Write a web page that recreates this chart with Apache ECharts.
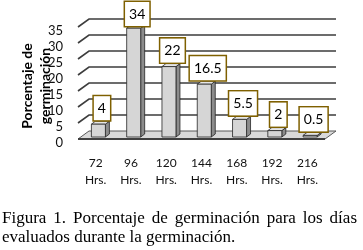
<!DOCTYPE html>
<html>
<head>
<meta charset="utf-8">
<script src="https://cdn.jsdelivr.net/npm/echarts@6/dist/echarts.min.js"></script>
<style>html,body{margin:0;padding:0;background:#fff}#c{width:363px;height:250px}</style>
</head>
<body>
<div id="c"></div>
<script>
var categories = ['72\nHrs.', '96\nHrs.', '120\nHrs.', '144\nHrs.', '168\nHrs.', '192\nHrs.', '216\nHrs.'];
var values = [4, 34, 22, 16.5, 5.5, 2, 0.5];
var yTicks = [0, 5, 10, 15, 20, 25, 30, 35];
var yTitle = 'Porcentaje de\ngerminación';
var captionLines = ['Figura 1. Porcentaje de germinación para los días', 'evaluados durante la germinación.'];

var DX = 11, DY = -8;           // full floor depth
var chart = echarts.init(document.getElementById('c'), null, {renderer: 'canvas'});

function gridItem(params, api) {
  var cs = params.coordSys;
  var v = api.value(1);
  var y = api.coord([0, v])[1];
  var xl = cs.x, xr = cs.x + cs.width;
  if (v === 0) {
    return {
      type: 'group',
      children: [
        {type: 'polygon', shape: {points: [[xl, y], [xr, y], [xr + DX, y + DY], [xl + DX, y + DY]]},
         style: {fill: '#d9d9d9', stroke: '#595959', lineWidth: 1}},
        {type: 'line', shape: {x1: xl, y1: y, x2: xr, y2: y}, style: {stroke: '#404040', lineWidth: 2}}
      ]
    };
  }
  return {
    type: 'polyline',
    shape: {points: [[xl, y], [xl + DX, y + DY], [xr + DX, y + DY]]},
    style: {fill: null, stroke: '#3d3d3d', lineWidth: 1.6}
  };
}

function barItem(params, api) {
  var i = api.value(0), v = api.value(1);
  var top = api.coord([i, v]);
  var base = api.coord([i, 0]);
  var fx = top[0] + DX * 0.25, fyT = top[1] + DY * 0.25, fyB = base[1] + DY * 0.25;
  var w = 14, dx = 4, dy = -3;
  var l = fx - w / 2, r = fx + w / 2;
  var stroke = '#262626';
  return {
    type: 'group',
    children: [
      {type: 'polygon', shape: {points: [[r, fyB], [r + dx, fyB + dy], [r + dx, fyT + dy], [r, fyT]]},
       style: {fill: '#8c8c8c', stroke: stroke, lineWidth: 0.8}},
      {type: 'polygon', shape: {points: [[l, fyT], [r, fyT], [r + dx, fyT + dy], [l + dx, fyT + dy]]},
       style: {fill: '#e6e6e6', stroke: stroke, lineWidth: 0.8}},
      {type: 'rect', shape: {x: l, y: fyT, width: w, height: fyB - fyT},
       style: {fill: '#d6d6d6', stroke: stroke, lineWidth: 0.8}},
      {type: 'text', x: fx + 3.5, y: Math.max(top[1] - 6, 26),
       style: {text: String(v), fill: '#000', fontSize: 14, fontFamily: 'Lato',
               align: 'center', verticalAlign: 'bottom', lineHeight: 14,
               backgroundColor: '#fff', borderColor: '#7f6000', borderWidth: 1.5,
               padding: [5, 4, 5, 4]}}
    ]
  };
}

// caption: first line justified between x=2 and x=357
var capFont = '17px "Liberation Serif"';
var ctx = document.createElement('canvas').getContext('2d');
ctx.font = capFont;
var words = captionLines[0].split(' ');
var widths = words.map(function (w) { return ctx.measureText(w).width; });
var total = widths.reduce(function (a, b) { return a + b; }, 0);
var gap = (357 - 2 - total) / (words.length - 1);
var graphics = [];
var cx = 2;
words.forEach(function (w, k) {
  graphics.push({type: 'text', left: cx, top: 210,
    style: {text: w, font: capFont, fill: '#000'}});
  cx += widths[k] + gap;
});
graphics.push({type: 'text', left: 2, top: 229,
  style: {text: captionLines[1], font: capFont, fill: '#000'}});
// rotated y-axis title
graphics.push({type: 'text', x: 36, y: 86, rotation: Math.PI / 2,
  style: {text: yTitle, fontFamily: 'Lato', fontSize: 14, fontWeight: 'bold', fill: '#000',
          lineHeight: 18, align: 'center', verticalAlign: 'middle'}});

chart.setOption({
  animation: false,
  graphic: graphics,
  grid: {left: 78, right: 38, top: 27, bottom: 111},
  xAxis: {
    type: 'category', data: categories,
    axisLine: {show: false}, axisTick: {show: false},
    axisLabel: {margin: 16, fontFamily: 'Lato', fontSize: 12, color: '#111', lineHeight: 17, interval: 0}
  },
  yAxis: {
    type: 'value', min: 0, max: 35, interval: 5,
    splitLine: {show: false}, axisLine: {show: false}, axisTick: {show: false},
    axisLabel: {margin: 15, fontFamily: 'Lato', fontSize: 13, color: '#111', verticalAlign: 'top', lineHeight: 7}
  },
  series: [
    {type: 'custom', renderItem: gridItem, data: yTicks.map(function (t) { return [0, t]; }),
     encode: {x: 0, y: 1}, z: 1, silent: true},
    {type: 'custom', renderItem: barItem, data: values.map(function (v, i) { return [i, v]; }),
     encode: {x: 0, y: 1}, z: 2, clip: false}
  ]
});
</script>
</body>
</html>
